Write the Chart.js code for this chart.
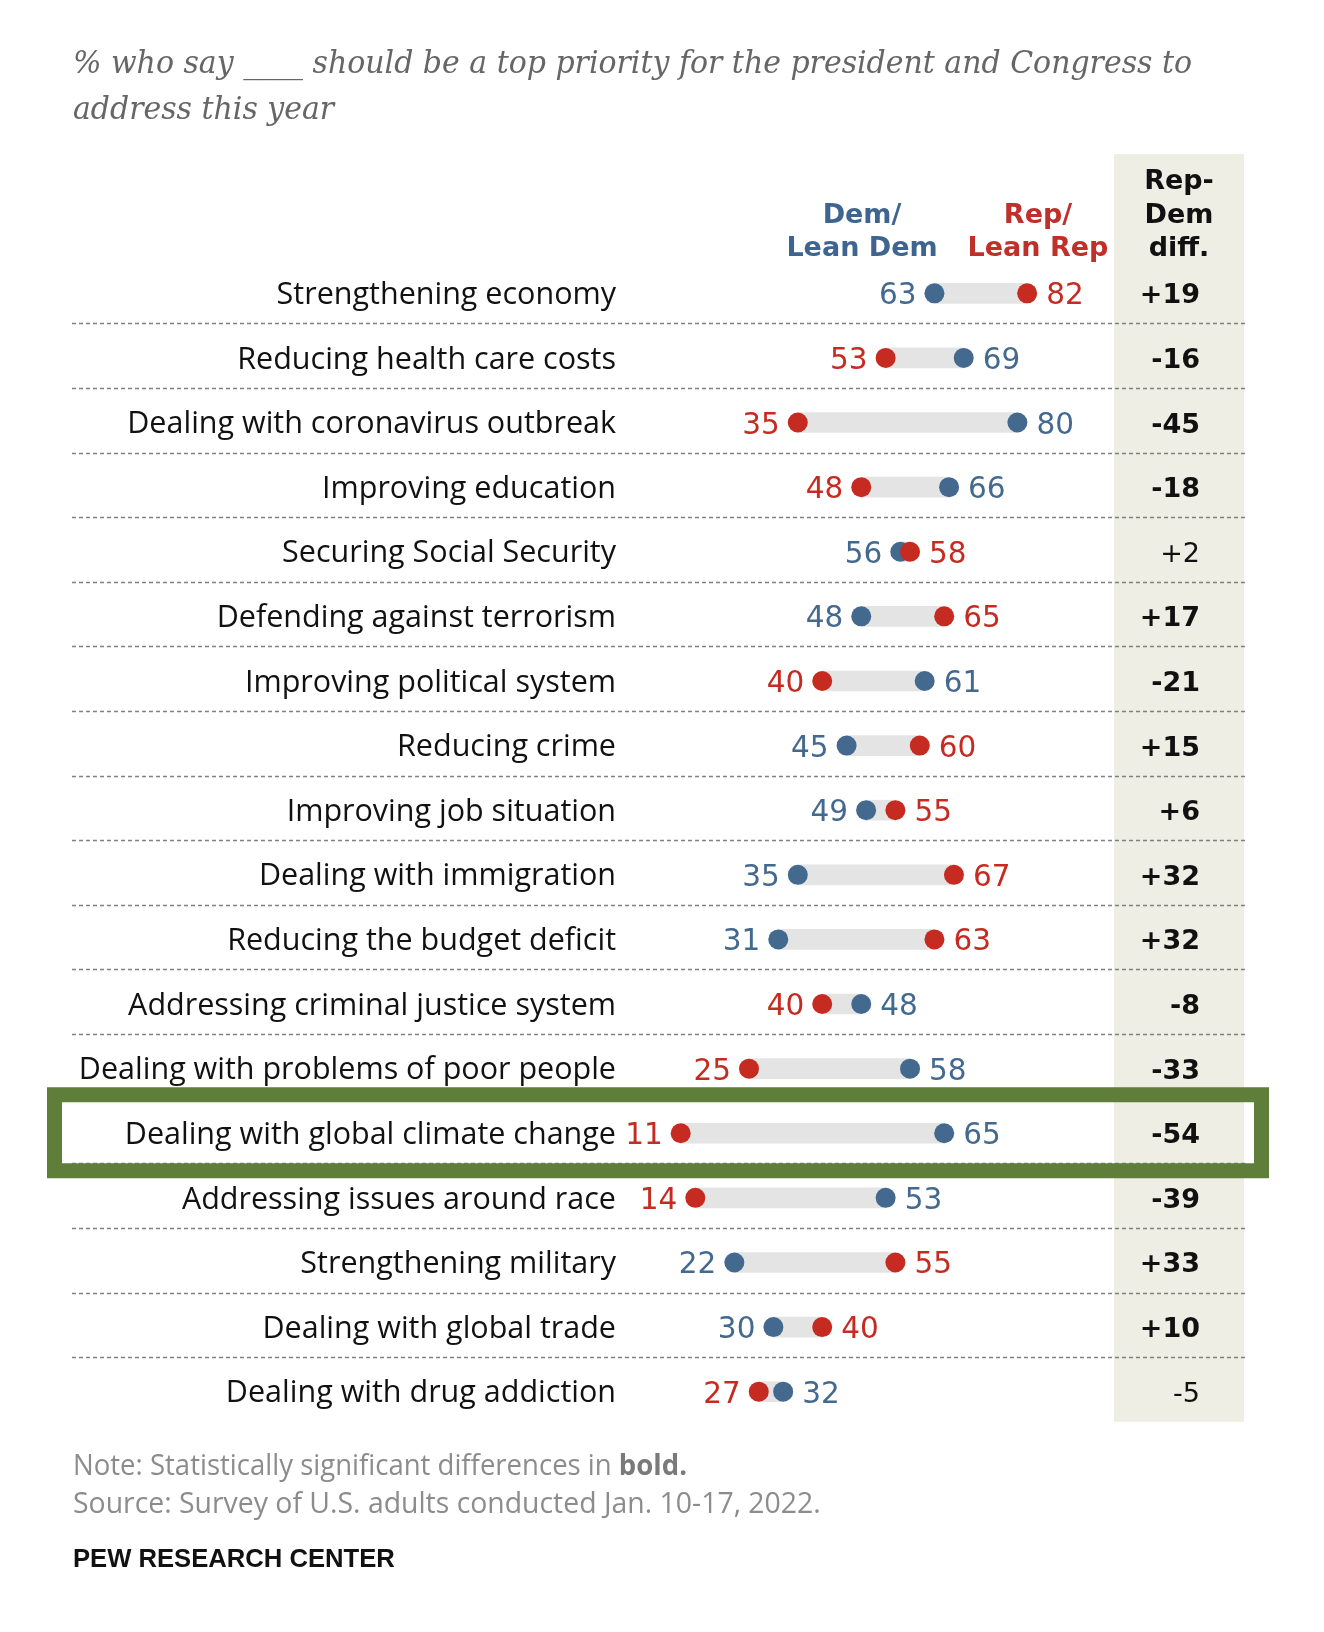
<!DOCTYPE html>
<html>
<head>
<meta charset="utf-8">
<script src="https://cdn.jsdelivr.net/npm/chart.js@4.4.1/dist/chart.umd.min.js"></script>
<style>
  html, body { margin: 0; padding: 0; background: #fff; }
  #wrap { width: 1324px; height: 1632px; }
</style>
</head>
<body>
<div id="wrap"><canvas id="chart" width="1324" height="1632"></canvas></div>
<script>
const categories = [
  "Strengthening economy",
  "Reducing health care costs",
  "Dealing with coronavirus outbreak",
  "Improving education",
  "Securing Social Security",
  "Defending against terrorism",
  "Improving political system",
  "Reducing crime",
  "Improving job situation",
  "Dealing with immigration",
  "Reducing the budget deficit",
  "Addressing criminal justice system",
  "Dealing with problems of poor people",
  "Dealing with global climate change",
  "Addressing issues around race",
  "Strengthening military",
  "Dealing with global trade",
  "Dealing with drug addiction",
];
const demValues = [63, 69, 80, 66, 56, 48, 61, 45, 49, 35, 31, 48, 58, 65, 53, 22, 30, 32];
const repValues = [82, 53, 35, 48, 58, 65, 40, 60, 55, 67, 63, 40, 25, 11, 14, 55, 40, 27];
const diffLabels = ["+19", "-16", "-45", "-18", "+2", "+17", "-21", "+15", "+6", "+32", "+32", "-8", "-33", "-54", "-39", "+33", "+10", "-5"];
const diffSignificant = [true, true, true, true, false, true, true, true, true, true, true, true, true, true, true, true, true, false];
const highlighted = "Dealing with global climate change";

const titleLines = [
  "% who say ____ should be a top priority for the president and Congress to",
  "address this year",
];
const noteText = "Note: Statistically significant differences in ";
const noteBold = "bold.";
const sourceText = "Source: Survey of U.S. adults conducted Jan. 10-17, 2022.";
const brandText = "PEW RESEARCH CENTER";

const BLUE = "#44698f";
const RED = "#c62b22";
const LABEL_FONT = "'Open Sans', 'Noto Sans', sans-serif";
const HEAD_FONT = "'DejaVu Sans', sans-serif";

// vertical centre of digits/caps on a given row
function drawCentered(ctx, text, x, y, align) {
  ctx.textAlign = align;
  ctx.textBaseline = "alphabetic";
  const h = ctx.measureText("0").actualBoundingBoxAscent;
  ctx.fillText(text, x, y + h / 2);
}

const pewDecor = {
  id: "pewDecor",
  beforeDraw(chart) {
    const ctx = chart.ctx;
    const ys = chart.scales.y;
    const band = ys.getPixelForValue(1) - ys.getPixelForValue(0);
    const lastY = ys.getPixelForValue(categories.length - 1) + band * 0.465;
    ctx.save();
    // grey diff column
    ctx.fillStyle = "#eeeee5";
    ctx.fillRect(1114, 154, 130, lastY - 154);
    // dashed row separators
    ctx.strokeStyle = "#808080";
    ctx.lineWidth = 1.7;
    ctx.setLineDash([4, 3]);
    for (let i = 0; i < categories.length - 1; i++) {
      const y = Math.round(ys.getPixelForValue(i) + band * 0.465) + 0.5;
      ctx.beginPath();
      ctx.moveTo(72, y);
      ctx.lineTo(1245, y);
      ctx.stroke();
    }
    ctx.restore();
  },
  afterDatasetsDraw(chart) {
    const ctx = chart.ctx;
    const xs = chart.scales.x;
    const ys = chart.scales.y;
    ctx.save();
    ctx.font = `29.5px ${HEAD_FONT}`;
    categories.forEach((c, i) => {
      const y = ys.getPixelForValue(i);
      const d = demValues[i];
      const r = repValues[i];
      const demLow = d < r;
      ctx.fillStyle = demLow ? BLUE : RED;
      drawCentered(ctx, String(Math.min(d, r)), xs.getPixelForValue(Math.min(d, r)) - 18, y, "right");
      ctx.fillStyle = demLow ? RED : BLUE;
      drawCentered(ctx, String(Math.max(d, r)), xs.getPixelForValue(Math.max(d, r)) + 19, y, "left");
    });
    ctx.fillStyle = "#111";
    diffLabels.forEach((t, i) => {
      ctx.font = `${diffSignificant[i] ? "bold " : ""}27px ${HEAD_FONT}`;
      drawCentered(ctx, t, 1200, ys.getPixelForValue(i), "right");
    });
    ctx.restore();
  },
  afterDraw(chart) {
    const ctx = chart.ctx;
    const ys = chart.scales.y;
    ctx.save();
    ctx.textBaseline = "alphabetic";

    // title, condensed to the reference width
    ctx.fillStyle = "#666";
    ctx.textAlign = "left";
    ctx.font = "italic 32px 'DejaVu Serif', serif";
    const ratio = Math.min(1, 1119 / ctx.measureText(titleLines[0]).width);
    titleLines.forEach((t, i) => {
      ctx.fillText(t, 73, 73 + i * 45.6, ctx.measureText(t).width * ratio);
    });

    // column headers
    ctx.font = `bold 27px ${HEAD_FONT}`;
    ctx.textAlign = "center";
    ctx.fillStyle = "#3e6590";
    ctx.fillText("Dem/", 862, 223);
    ctx.fillText("Lean Dem", 862, 256);
    ctx.fillStyle = "#c0302a";
    ctx.fillText("Rep/", 1038, 223);
    ctx.fillText("Lean Rep", 1038, 256);
    ctx.fillStyle = "#111";
    ctx.fillText("Rep-", 1179, 189);
    ctx.fillText("Dem", 1179, 223);
    ctx.fillText("diff.", 1179, 256);

    // footer
    ctx.textAlign = "left";
    ctx.font = `100px ${LABEL_FONT}`;
    const noteSize = 100 * 748 / ctx.measureText(sourceText).width;
    ctx.font = `${noteSize}px ${LABEL_FONT}`;
    const nw = ctx.measureText(noteText).width;
    ctx.font = `bold ${noteSize}px ${LABEL_FONT}`;
    const bw = ctx.measureText(noteBold).width;
    const squeeze = Math.min(1, 614 / (nw + bw));
    ctx.font = `${noteSize}px ${LABEL_FONT}`;
    ctx.fillStyle = "#8c8c8c";
    ctx.fillText(sourceText, 73, 1513);
    ctx.fillText(noteText, 73, 1475, nw * squeeze);
    ctx.font = `bold ${noteSize}px ${LABEL_FONT}`;
    ctx.fillStyle = "#7a7a7a";
    ctx.fillText(noteBold, 73 + nw * squeeze, 1475, bw * squeeze);

    ctx.font = "bold 100px 'Liberation Sans Narrow', 'Liberation Sans', sans-serif";
    const brandSize = 100 * 322 / ctx.measureText(brandText).width;
    ctx.font = `bold ${brandSize}px 'Liberation Sans Narrow', 'Liberation Sans', sans-serif`;
    ctx.fillStyle = "#111";
    ctx.fillText(brandText, 73, 1567);

    // highlight box around one row
    const hy = ys.getPixelForValue(categories.indexOf(highlighted));
    ctx.strokeStyle = "#5e7e3a";
    ctx.lineWidth = 15;
    ctx.strokeRect(54.5, hy - 38.5, 1207, 76);
    ctx.restore();
  },
};

new Chart(document.getElementById("chart"), {
  type: "bar",
  data: {
    labels: categories,
    datasets: [
      {
        label: "Gap",
        data: categories.map((c, i) => [
          Math.min(demValues[i], repValues[i]),
          Math.max(demValues[i], repValues[i]),
        ]),
        backgroundColor: "#e4e4e4",
        barThickness: 20,
        borderWidth: 0,
        borderSkipped: false,
        order: 3,
      },
      {
        type: "line",
        label: "Dem/Lean Dem",
        data: demValues,
        showLine: false,
        pointRadius: 10,
        pointHoverRadius: 10,
        pointBorderWidth: 0,
        pointBackgroundColor: BLUE,
        order: 2,
      },
      {
        type: "line",
        label: "Rep/Lean Rep",
        data: repValues,
        showLine: false,
        pointRadius: 10,
        pointHoverRadius: 10,
        pointBorderWidth: 0,
        pointBackgroundColor: RED,
        order: 1,
      },
    ],
  },
  options: {
    indexAxis: "y",
    responsive: false,
    animation: false,
    events: [],
    layout: { padding: { left: 0, right: 209, top: 261, bottom: 208 } },
    plugins: {
      legend: { display: false },
      tooltip: { enabled: false },
      title: { display: false },
    },
    scales: {
      x: { type: "linear", min: 0, max: 100, display: false },
      y: {
        type: "category",
        offset: true,
        grid: { display: false, drawTicks: false },
        border: { display: false },
        ticks: {
          autoSkip: false,
          padding: 11,
          labelOffset: 2,
          color: "#111",
          font: { family: "'Open Sans', 'Noto Sans', sans-serif", size: 30.5 },
        },
        afterFit: (scale) => {
          scale.width = 627;
        },
      },
    },
  },
  plugins: [pewDecor],
});
</script>
</body>
</html>
